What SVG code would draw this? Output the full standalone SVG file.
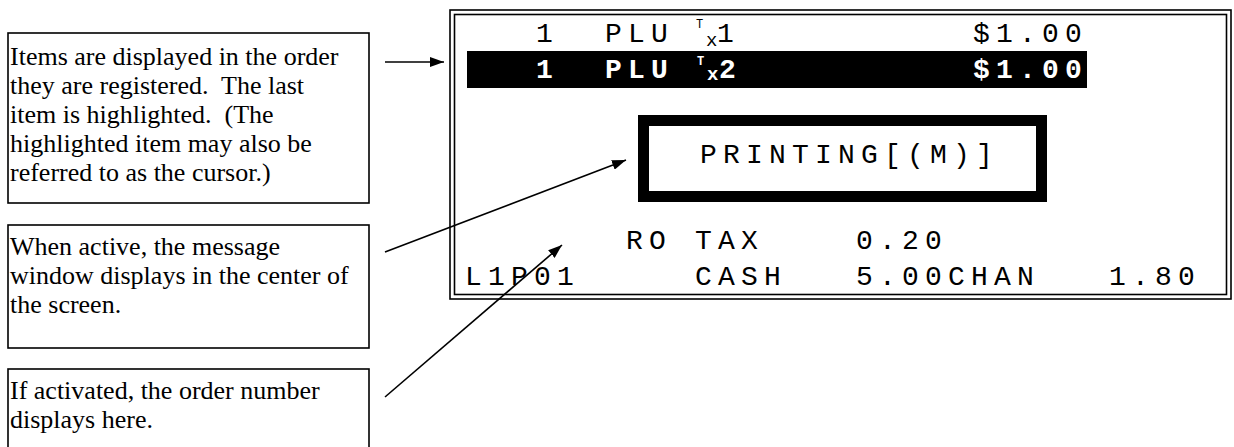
<svg xmlns="http://www.w3.org/2000/svg" width="1234" height="447" viewBox="0 0 1234 447">
  <style>
    .note { fill: #fff; stroke: #000; stroke-width: 1.6; }
    .note-text { font-family: "Liberation Serif", "Times New Roman", serif; font-size: 26px; fill: #000; white-space: pre; }
    .lcd { font-family: "Liberation Mono", "Courier New", monospace; font-size: 28px; letter-spacing: 6.2px; fill: #000; }
    .lcd-b { font-weight: bold; fill: #fff; }
    .sup { font-family: "Liberation Mono", "Courier New", monospace; font-size: 12px; fill: #000; }
    .sub { font-family: "Liberation Mono", "Courier New", monospace; font-size: 19px; fill: #000; }
    .inv { fill: #fff; font-weight: bold; }
    .conn { stroke: #000; stroke-width: 1.6; fill: none; marker-end: url(#arrow); }
  </style>
  <defs>
    <marker id="arrow" viewBox="0 0 14 10" refX="14" refY="5" markerWidth="14" markerHeight="10" markerUnits="userSpaceOnUse" orient="auto">
      <path d="M0,0 L14,5 L0,10 Z" fill="#000"/>
    </marker>
  </defs>

  <rect width="1234" height="447" fill="#fff"/>

  <!-- Callout notes -->
  <g id="note-items">
    <rect class="note" x="8" y="33" width="361" height="170"/>
    <text class="note-text" x="10" y="65" xml:space="preserve">Items are displayed in the order</text>
    <text class="note-text" x="10" y="94" xml:space="preserve">they are registered.  The last</text>
    <text class="note-text" x="10" y="123" xml:space="preserve">item is highlighted.  (The</text>
    <text class="note-text" x="10" y="152" xml:space="preserve">highlighted item may also be</text>
    <text class="note-text" x="10" y="181" xml:space="preserve">referred to as the cursor.)</text>
  </g>
  <g id="note-message">
    <rect class="note" x="8" y="225" width="361" height="123"/>
    <text class="note-text" x="10" y="255">When active, the message</text>
    <text class="note-text" x="10" y="284">window displays in the center of</text>
    <text class="note-text" x="10" y="313">the screen.</text>
  </g>
  <g id="note-order">
    <rect class="note" x="8" y="369" width="361" height="100"/>
    <text class="note-text" x="10" y="399">If activated, the order number</text>
    <text class="note-text" x="10" y="428">displays here.</text>
  </g>

  <!-- Register screen -->
  <g id="screen">
    <rect x="450" y="10" width="781" height="289" fill="#fff" stroke="#000" stroke-width="1.6"/>
    <rect x="454.5" y="14.5" width="772" height="280" fill="none" stroke="#000" stroke-width="1.6"/>

    <!-- item lines -->
    <text class="lcd" x="536" y="42">1</text>
    <text class="lcd" x="605" y="42">PLU</text>
    <text class="sup" x="696" y="28">T</text>
    <text class="sub" x="706" y="46">x</text>
    <text class="lcd" x="717" y="42">1</text>
    <text class="lcd" x="973" y="42">$1.00</text>

    <rect x="467" y="51" width="620" height="37" fill="#000"/>
    <text class="lcd lcd-b" x="536" y="78">1</text>
    <text class="lcd lcd-b" x="605" y="78">PLU</text>
    <text class="sup inv" x="697" y="65">T</text>
    <text class="sub inv" x="707" y="80">x</text>
    <text class="lcd lcd-b" x="719" y="78">2</text>
    <text class="lcd lcd-b" x="973" y="78">$1.00</text>

    <!-- message window -->
    <rect x="643.5" y="120.5" width="398" height="76" fill="#fff" stroke="#000" stroke-width="11"/>
    <text class="lcd" x="700" y="163">PRINTING[(M)]</text>

    <!-- totals -->
    <text class="lcd" x="626" y="249" xml:space="preserve">RO TAX    0.20</text>
    <text class="lcd" x="465" y="285" xml:space="preserve">L1P01     CASH   5.00CHAN   1.80</text>
  </g>

  <!-- Connectors -->
  <g id="connectors">
    <line class="conn" x1="385" y1="62" x2="444" y2="62"/>
    <line class="conn" x1="385" y1="252" x2="626" y2="160"/>
    <line class="conn" x1="385" y1="397" x2="562" y2="245"/>
  </g>
</svg>
